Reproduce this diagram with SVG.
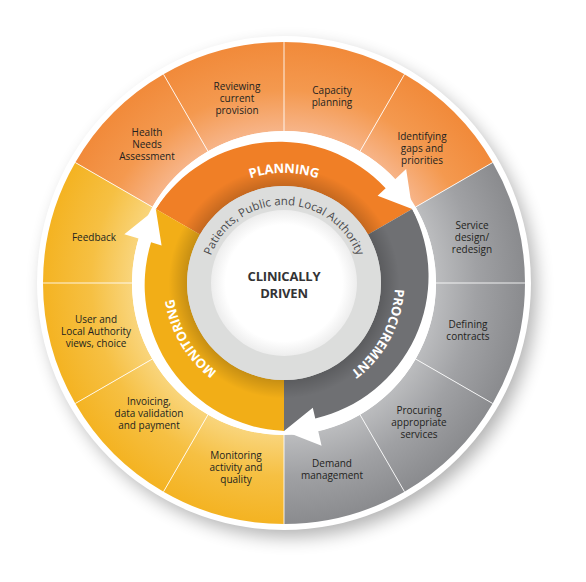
<svg xmlns="http://www.w3.org/2000/svg" width="586" height="582" viewBox="0 0 586 582">
<defs>
<style>
.lbl{font-family:"Open Sans","Noto Sans",sans-serif;font-size:10px;fill:#231f20;text-anchor:middle}
.band{font-family:"Open Sans","Noto Sans",sans-serif;font-size:13px;font-weight:700;fill:#ffffff;letter-spacing:-0.2px}
.sep{stroke:#ffffff;stroke-width:1;stroke-opacity:0.85}
.arrow{fill:#ffffff}
</style>
<filter id="sh" x="-20%" y="-20%" width="140%" height="140%"><feGaussianBlur stdDeviation="9"/></filter>
<radialGradient id="gO" gradientUnits="userSpaceOnUse" cx="284" cy="283" r="241">
<stop offset="0.62" stop-color="#f7b68c"/><stop offset="0.8" stop-color="#f4994f"/><stop offset="1" stop-color="#f18a3a"/>
</radialGradient>
<radialGradient id="gY" gradientUnits="userSpaceOnUse" cx="284" cy="283" r="241">
<stop offset="0.62" stop-color="#f9d67f"/><stop offset="0.8" stop-color="#f6c043"/><stop offset="1" stop-color="#f4b322"/>
</radialGradient>
<radialGradient id="gG" gradientUnits="userSpaceOnUse" cx="284" cy="283" r="241">
<stop offset="0.62" stop-color="#bdbec0"/><stop offset="0.8" stop-color="#a0a1a4"/><stop offset="1" stop-color="#8a8b8e"/>
</radialGradient>
<radialGradient id="bandShade" gradientUnits="userSpaceOnUse" cx="284" cy="283" r="148">
<stop offset="0.655" stop-color="#000" stop-opacity="0.18"/><stop offset="0.78" stop-color="#000" stop-opacity="0"/>
</radialGradient>
<radialGradient id="gW" gradientUnits="userSpaceOnUse" cx="284" cy="283" r="73">
<stop offset="0.8" stop-color="#ffffff"/><stop offset="1" stop-color="#ededed"/>
</radialGradient>
<path id="pPat" d="M 206 283 A 78 78 0 0 1 362 283"/>
<path id="pPlan" d="M 188.74 228 A 110 110 0 0 1 379.26 228"/>
<path id="pProc" d="M 378.13 224.18 A 111 111 0 0 1 287.87 393.93"/>
<path id="pMon" d="M 285.16 393.99 A 111 111 0 0 1 187.30 228.51"/>
</defs>
<rect width="586" height="582" fill="#ffffff"/>
<circle cx="290" cy="291" r="246" fill="#000" opacity="0.3" filter="url(#sh)"/>
<circle cx="284" cy="283" r="247" fill="#ffffff"/>

<g id="outer-planning">
<g id="health-needs"><path d="M 163.5 74.29 A 241 241 0 0 0 75.29 162.5 L 152.37 207 A 152 152 0 0 1 208 151.37 Z" fill="url(#gO)"/></g>
<g id="reviewing"><path d="M 284 42 A 241 241 0 0 0 163.5 74.29 L 208 151.37 A 152 152 0 0 1 284 131 Z" fill="url(#gO)"/></g>
<g id="capacity"><path d="M 404.5 74.29 A 241 241 0 0 0 284 42 L 284 131 A 152 152 0 0 1 360 151.37 Z" fill="url(#gO)"/></g>
<g id="identifying"><path d="M 492.71 162.5 A 241 241 0 0 0 404.5 74.29 L 360 151.37 A 152 152 0 0 1 415.63 207 Z" fill="url(#gO)"/></g>
</g>
<g id="outer-procurement">
<g id="service-design"><path d="M 525 283 A 241 241 0 0 0 492.71 162.5 L 415.63 207 A 152 152 0 0 1 436 283 Z" fill="url(#gG)"/></g>
<g id="defining"><path d="M 492.71 403.5 A 241 241 0 0 0 525 283 L 436 283 A 152 152 0 0 1 415.63 359 Z" fill="url(#gG)"/></g>
<g id="procuring"><path d="M 404.5 491.71 A 241 241 0 0 0 492.71 403.5 L 415.63 359 A 152 152 0 0 1 360 414.63 Z" fill="url(#gG)"/></g>
<g id="demand"><path d="M 284 524 A 241 241 0 0 0 404.5 491.71 L 360 414.63 A 152 152 0 0 1 284 435 Z" fill="url(#gG)"/></g>
</g>
<g id="outer-monitoring">
<g id="monitoring-activity"><path d="M 163.5 491.71 A 241 241 0 0 0 284 524 L 284 435 A 152 152 0 0 1 208 414.63 Z" fill="url(#gY)"/></g>
<g id="invoicing"><path d="M 75.29 403.5 A 241 241 0 0 0 163.5 491.71 L 208 414.63 A 152 152 0 0 1 152.37 359 Z" fill="url(#gY)"/></g>
<g id="user-views"><path d="M 43 283 A 241 241 0 0 0 75.29 403.5 L 152.37 359 A 152 152 0 0 1 132 283 Z" fill="url(#gY)"/></g>
<g id="feedback"><path d="M 75.29 162.5 A 241 241 0 0 0 43 283 L 132 283 A 152 152 0 0 1 152.37 207 Z" fill="url(#gY)"/></g>
</g>
<g id="separators">
<line class="sep" x1="436" y1="283" x2="525" y2="283"/>
<line class="sep" x1="415.63" y1="207" x2="492.71" y2="162.5"/>
<line class="sep" x1="360" y1="151.37" x2="404.5" y2="74.29"/>
<line class="sep" x1="284" y1="131" x2="284" y2="42"/>
<line class="sep" x1="208" y1="151.37" x2="163.5" y2="74.29"/>
<line class="sep" x1="152.37" y1="207" x2="75.29" y2="162.5"/>
<line class="sep" x1="132" y1="283" x2="43" y2="283"/>
<line class="sep" x1="152.37" y1="359" x2="75.29" y2="403.5"/>
<line class="sep" x1="208" y1="414.63" x2="163.5" y2="491.71"/>
<line class="sep" x1="284" y1="435" x2="284" y2="524"/>
<line class="sep" x1="360" y1="414.63" x2="404.5" y2="491.71"/>
<line class="sep" x1="415.63" y1="359" x2="492.71" y2="403.5"/>
</g>

<g id="planning"><path d="M 412.17 209 A 148 148 0 0 0 155.83 209 L 200 234.5 A 97 97 0 0 1 368 234.5 Z" fill="#f07f26"/></g>
<g id="monitoring"><path d="M 155.83 209 A 148 148 0 0 0 284 431 L 284 380 A 97 97 0 0 1 200 234.5 Z" fill="#f2ae17"/></g>
<g id="procurement"><path d="M 284 431 A 148 148 0 0 0 412.17 209 L 368 234.5 A 97 97 0 0 1 284 380 Z" fill="#6f7073"/></g>
<circle cx="284" cy="283" r="148" fill="url(#bandShade)"/>

<g id="stakeholders">
<circle cx="284" cy="283" r="97" fill="#dcdddc"/>
<text font-family="'Open Sans','Noto Sans',sans-serif" font-size="11.5" fill="#4a4a4c"><textPath href="#pPat" startOffset="50%" text-anchor="middle">Patients, Public and Local Authority</textPath></text>
</g>
<g id="center">
<circle cx="284" cy="283" r="73" fill="url(#gW)"/>
<text x="284" y="281" font-family="'Open Sans','Noto Sans',sans-serif" font-size="13" font-weight="700" fill="#333335" text-anchor="middle" letter-spacing="-0.2">CLINICALLY</text>
<text x="284" y="297.5" font-family="'Open Sans','Noto Sans',sans-serif" font-size="13" font-weight="700" fill="#333335" text-anchor="middle" letter-spacing="-0.2">DRIVEN</text>
</g>

<g id="connectors">
<path class="arrow" d="M 152.37 207 A 152 152 0 0 1 395.17 179.34 L 406.14 169.11 L 412.17 209 L 377.62 195.7 L 385.66 188.2 A 146 146 0 0 0 155.83 209 Z"/>
<path class="arrow" d="M 415.63 207 A 152 152 0 0 1 318.2 431.11 L 321.58 445.72 L 284 431 L 312.8 407.72 L 315.28 418.44 A 146 146 0 0 0 412.17 209 Z"/>
<path class="arrow" d="M 284 435 A 152 152 0 0 1 138.64 238.56 L 124.3 234.17 L 155.83 209 L 161.59 245.57 L 151.07 242.36 A 146 146 0 0 0 284 431 Z"/>
</g>

<g id="band-labels">
<text class="band"><textPath href="#pPlan" startOffset="50%" text-anchor="middle">PLANNING</textPath></text>
<text class="band"><textPath href="#pProc" startOffset="50%" text-anchor="middle">PROCUREMENT</textPath></text>
<text class="band"><textPath href="#pMon" startOffset="50%" text-anchor="middle">MONITORING</textPath></text>
</g>

<g id="labels">
<text class="lbl" x="147"><tspan x="147" y="136">Health</tspan><tspan x="147" y="148">Needs</tspan><tspan x="147" y="160">Assessment</tspan></text>
<text class="lbl"><tspan x="237" y="89.5">Reviewing</tspan><tspan x="237" y="101.5">current</tspan><tspan x="237" y="113.5">provision</tspan></text>
<text class="lbl"><tspan x="332" y="94">Capacity</tspan><tspan x="332" y="106">planning</tspan></text>
<text class="lbl"><tspan x="422" y="140">Identifying</tspan><tspan x="422" y="152">gaps and</tspan><tspan x="422" y="164">priorities</tspan></text>
<text class="lbl"><tspan x="472" y="229">Service</tspan><tspan x="472" y="241">design/</tspan><tspan x="472" y="253">redesign</tspan></text>
<text class="lbl"><tspan x="468" y="328">Defining</tspan><tspan x="468" y="340">contracts</tspan></text>
<text class="lbl"><tspan x="419" y="413.5">Procuring</tspan><tspan x="419" y="425.5">appropriate</tspan><tspan x="419" y="437.5">services</tspan></text>
<text class="lbl"><tspan x="332" y="467">Demand</tspan><tspan x="332" y="479">management</tspan></text>
<text class="lbl"><tspan x="236" y="459">Monitoring</tspan><tspan x="236" y="471">activity and</tspan><tspan x="236" y="483">quality</tspan></text>
<text class="lbl"><tspan x="149" y="405">Invoicing,</tspan><tspan x="149" y="417">data validation</tspan><tspan x="149" y="429">and payment</tspan></text>
<text class="lbl"><tspan x="96" y="323">User and</tspan><tspan x="96" y="335">Local Authority</tspan><tspan x="96" y="347">views, choice</tspan></text>
<text class="lbl"><tspan x="94" y="241">Feedback</tspan></text>
</g>
</svg>
